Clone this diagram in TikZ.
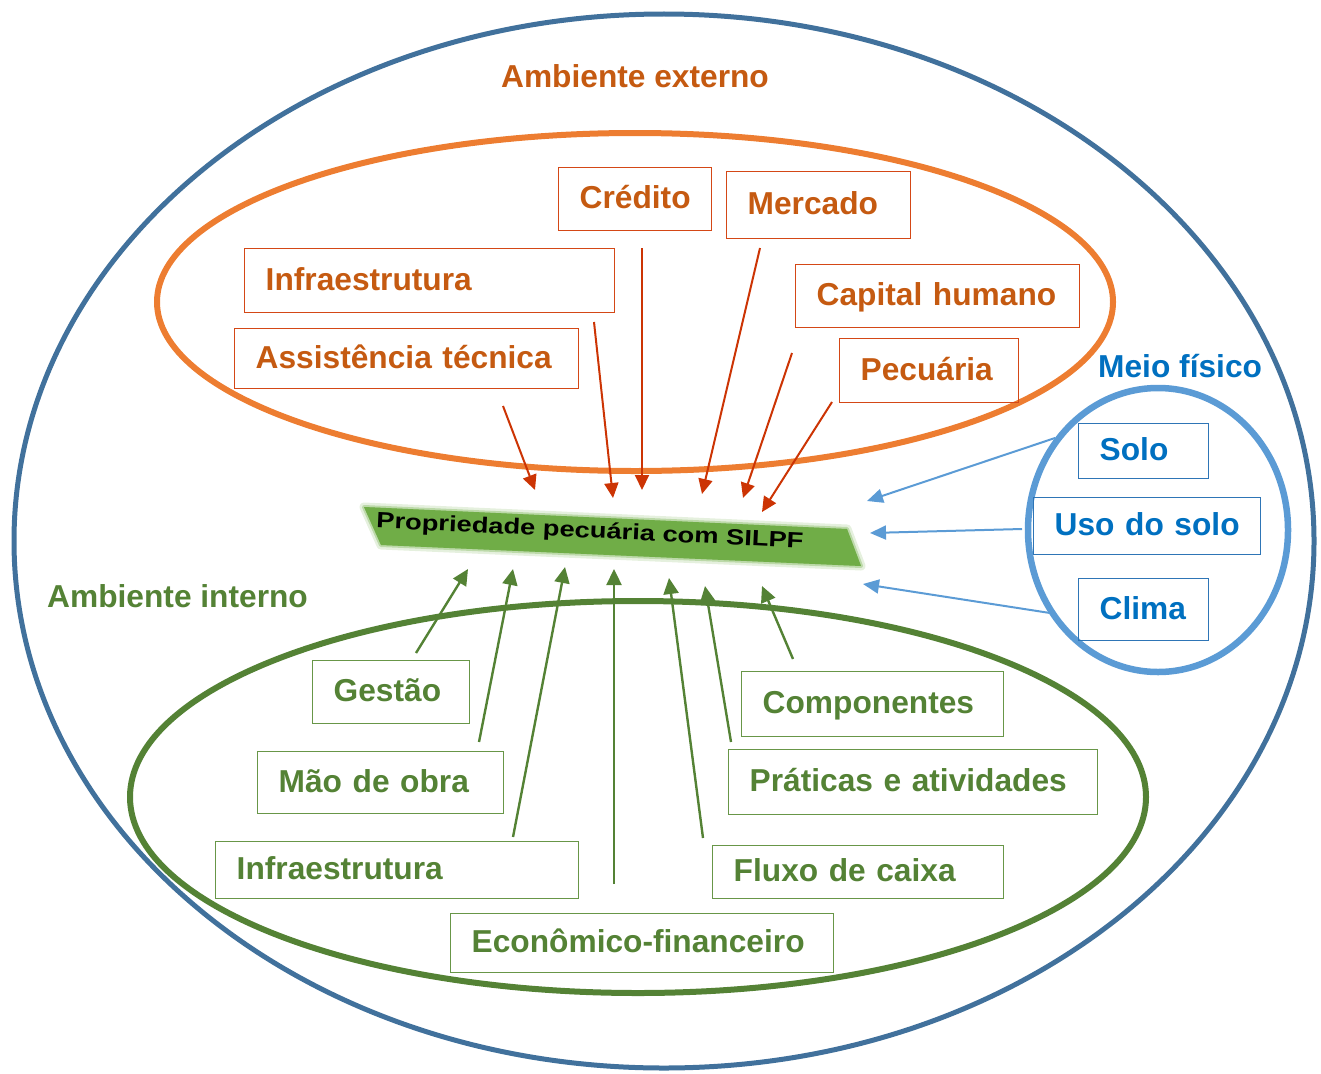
\documentclass[tikz,border=0pt]{standalone}
\usepackage{fontspec}
\setmainfont{Liberation Sans}
\usetikzlibrary{arrows.meta}
\definecolor{outerc}{RGB}{65,113,156}
\definecolor{orangec}{RGB}{237,125,49}
\definecolor{otext}{RGB}{197,90,17}
\definecolor{oboxc}{RGB}{212,72,22}
\definecolor{redarr}{RGB}{204,52,4}
\definecolor{greenc}{RGB}{84,130,53}
\definecolor{gboxc}{RGB}{104,150,72}
\definecolor{cfill}{RGB}{112,173,71}
\definecolor{bluec}{RGB}{91,155,213}
\definecolor{btext}{RGB}{0,112,192}
\definecolor{bboxc}{RGB}{46,117,182}
\begin{document}
\begin{tikzpicture}[x=1pt,y=-1pt,
  lbl/.style={font=\fontsize{31.7}{36}\selectfont\bfseries, text height=23pt, text depth=4pt, inner sep=0pt},
  ttl/.style={font=\fontsize{31.7}{36}\selectfont\bfseries, text height=23pt, text depth=0pt, inner sep=0pt},
  boxbase/.style={lbl, line width=1.4pt, align=left, inner xsep=21pt, inner ysep=0pt, anchor=north west},
  obox/.style={boxbase, draw=oboxc, text=otext},
  gbox/.style={boxbase, draw=gboxc, text=greenc},
  bbox/.style={boxbase, draw=bboxc, text=btext},
  rarr/.style={draw=redarr, line width=2pt, -{Triangle[length=15pt,width=14pt]}},
  garr/.style={draw=greenc, line width=2.4pt, -{Triangle[length=16pt,width=15pt]}},
  barr/.style={draw=bluec, line width=2pt, -{Triangle[length=16pt,width=14pt]}}
]
\useasboundingbox (0,0) rectangle (1321,1073);

% regions
\draw[outerc, line width=5pt] (664,541) ellipse [x radius=650pt, y radius=527pt];
\draw[orangec, line width=6pt] (635,302) ellipse [x radius=478pt, y radius=169pt];
\draw[greenc, line width=6pt] (638,797) ellipse [x radius=508pt, y radius=196pt];
\draw[bluec, line width=6.5pt] (1158,530) ellipse [x radius=130pt, y radius=142pt];

% titles
\node[ttl, text=otext] (ext) at (635,76) {Ambiente externo};
\node[ttl, text=greenc, anchor=west] (int) at (47,596) {Ambiente interno};
\node[ttl, text=btext, anchor=west] (meio) at (1098,366) {Meio físico};

% central property
\fill[cfill, opacity=0.18, draw=cfill, line width=9pt, line join=round] (364,507) -- (847,529) -- (861,566) -- (381,545) -- cycle;
\fill[cfill, opacity=0.35, draw=cfill, line width=4pt, line join=round] (364,507) -- (847,529) -- (861,566) -- (381,545) -- cycle;
\fill[cfill] (364,507) -- (847,529) -- (861,566) -- (381,545) -- cycle;
\node[font=\fontsize{22}{26}\selectfont\bfseries, text=black, inner sep=0pt, text height=16pt, text depth=0pt, rotate=-2.7] (prop) at (590,530) {\scalebox{1.24}[1]{Propriedade pecuária com SILPF}};

% external boxes
\node[obox, text width=111pt, minimum height=63pt] (credito) at (558,167) {Crédito};
\node[obox, text width=142pt, minimum height=67pt] (mercado) at (726,171) {Mercado};
\node[obox, text width=328pt, minimum height=64pt] (oinfra) at (244,248) {Infraestrutura};
\node[obox, text width=242pt, minimum height=63pt] (capital) at (795,264) {Capital humano};
\node[obox, text width=302pt, minimum height=60pt] (assist) at (234,328) {Assistência técnica};
\node[obox, text width=137pt, minimum height=64pt] (pecuaria) at (839,338) {Pecuária};

% internal boxes
\node[gbox, text width=115pt, minimum height=63pt] (gestao) at (312,660) {Gestão};
\node[gbox, text width=204pt, minimum height=62pt] (mao) at (257,751) {Mão de obra};
\node[gbox, text width=321pt, minimum height=57pt] (ginfra) at (215,841) {Infraestrutura};
\node[gbox, text width=341pt, minimum height=59pt] (econ) at (450,913) {Econômico-financeiro};
\node[gbox, text width=249pt, minimum height=53pt] (fluxo) at (712,845) {Fluxo de caixa};
\node[gbox, text width=327pt, minimum height=65pt] (praticas) at (728,749) {Práticas e atividades};
\node[gbox, text width=220pt, minimum height=65pt] (comp) at (741,671) {Componentes};

% physical boxes
\node[bbox, text width=88pt, minimum height=55pt] (solo) at (1078,423) {Solo};
\node[bbox, text width=185pt, minimum height=57pt] (uso) at (1033,497) {Uso do solo};
\node[bbox, text width=88pt, minimum height=62pt] (clima) at (1078,578) {Clima};

% arrow end points
\coordinate (r1s) at (503,406); \coordinate (r1e) at (535,490);
\coordinate (r2s) at (594,322); \coordinate (r2e) at (613,498);
\coordinate (r3s) at (642,248); \coordinate (r3e) at (642,490);
\coordinate (r4s) at (760,248); \coordinate (r4e) at (702,494);
\coordinate (r5s) at (792,353); \coordinate (r5e) at (743,498);
\coordinate (r6s) at (832,402); \coordinate (r6e) at (762,512);
\coordinate (g1s) at (416,653); \coordinate (g1e) at (468,569);
\coordinate (g2s) at (479,742); \coordinate (g2e) at (513,569);
\coordinate (g3s) at (513,837); \coordinate (g3e) at (565,567);
\coordinate (g4s) at (614,884); \coordinate (g4e) at (614,569);
\coordinate (g5s) at (703,838); \coordinate (g5e) at (669,578);
\coordinate (g6s) at (731,742); \coordinate (g6e) at (705,586);
\coordinate (g7s) at (793,659); \coordinate (g7e) at (762,586);
\coordinate (b1s) at (1055,438); \coordinate (b1e) at (867,501);
\coordinate (b2s) at (1022,529); \coordinate (b2e) at (870,533);
\coordinate (b3s) at (1050,613); \coordinate (b3e) at (863,584);

% arrows
\draw[rarr] (r1s) -- (r1e);
\draw[rarr] (r2s) -- (r2e);
\draw[rarr] (r3s) -- (r3e);
\draw[rarr] (r4s) -- (r4e);
\draw[rarr] (r5s) -- (r5e);
\draw[rarr] (r6s) -- (r6e);
\draw[garr] (g1s) -- (g1e);
\draw[garr] (g2s) -- (g2e);
\draw[garr] (g3s) -- (g3e);
\draw[garr] (g4s) -- (g4e);
\draw[garr] (g5s) -- (g5e);
\draw[garr] (g6s) -- (g6e);
\draw[garr] (g7s) -- (g7e);
\draw[barr] (b1s) -- (b1e);
\draw[barr] (b2s) -- (b2e);
\draw[barr] (b3s) -- (b3e);
\end{tikzpicture}
\end{document}
